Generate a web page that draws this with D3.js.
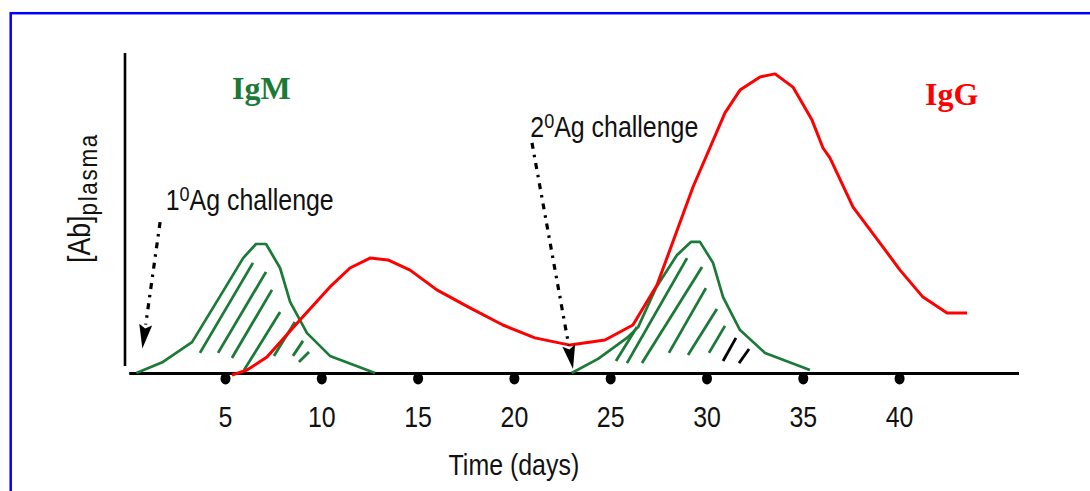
<!DOCTYPE html>
<html>
<head>
<meta charset="utf-8">
<script src="https://cdn.jsdelivr.net/npm/d3@7"></script>
<style>
  body { margin: 0; background: #fff; }
  svg { display: block; }
  .narrow { font-family: "Liberation Sans", Arial, sans-serif; }
</style>
</head>
<body>
<svg id="chart" width="1090" height="491"></svg>
<script>
// x = time in days, y = antibody level (arbitrary units, 0-100)
const tickDays = [5, 10, 15, 20, 25, 30, 35, 40];

const igmPrimary = [[0.4, 0], [1.78, 3.7], [3.29, 10.3], [5.0, 28.3], [5.94, 38.3], [6.61, 43], [7.13, 43],
    [7.86, 35], [8.38, 23.7], [9.26, 13.3], [10.45, 5.7], [12.79, 0]];

const igmSecondary = [[23.0, 0], [24.37, 4.7], [25.87, 11.7], [26.45, 15.3], [27.4, 28.7], [28.47, 39.3],
    [29.19, 43.7], [29.66, 43.7], [30.34, 36.7], [30.86, 25.3], [31.74, 14.3], [33.04, 6.7], [35.37, 1]];

const igg = [[5.36, -0.7], [6.14, 1], [7.18, 5.3], [8.89, 17.7], [10.45, 28.7], [11.49, 35], [12.53, 38.3],
    [13.46, 37.7], [14.61, 34.3], [16.0, 27.7], [17.72, 21.7], [19.43, 16], [21.09, 11.7], [22.91, 9.3],
    [24.73, 11], [26.18, 16], [27.43, 29.3], [29.3, 62], [30.96, 86.7], [31.74, 94.3], [32.78, 98.7],
    [33.56, 99.7], [34.49, 95.3], [35.48, 84.3], [36.05, 75], [36.41, 71.7], [37.61, 55.3], [39.01, 43.3],
    [40.05, 34.3], [41.24, 25.3], [42.49, 20], [43.53, 20]];

// hatch strokes under the IgM peaks: [day1, val1, day2, val2]
const hatchPrimary = [[3.70, 6.7, 6.45, 36.7], [4.64, 6.7, 7.13, 33.7], [5.36, 5, 7.44, 27.7], [5.99, 1, 7.86, 20.3],
    [7.54, 5.7, 8.63, 17], [8.53, 5.7, 9.05, 10.7], [8.84, 3.7, 9.36, 7]];
const hatchSecondary = [[25.3, 4, 26.39, 15.3], [25.87, 3.3, 28.99, 38.3], [26.65, 3.3, 29.77, 35.3],
    [28.05, 6.7, 29.97, 28.3], [29.04, 6, 30.54, 21.3], [30.13, 6.7, 30.96, 15.7]];
const hatchDark = [[30.86, 4, 31.53, 11.7], [31.69, 3.3, 32.21, 8]];

// antigen challenges: arrow from, arrow tip, label anchor
const challenges = [
    {n: "1", from: [1.63, 50.3], to: [0.71, 8.2], label: [1.92, 54.3]},
    {n: "2", from: [20.94, 76.7], to: [23.07, 1.3], label: [20.85, 78.7]}
];

const green = "#1b7a37";
const red = "#ff0000";
const squeeze = "scale(0.86,1)"; // fake a condensed face

const svg = d3.select("#chart");

let x = d3.scaleLinear().domain([0, 46.2]).range([128.7, 1018.5]);
let y = d3.scaleLinear().domain([0, 100]).range([373, 73]);

// blue frame (runs off the right and bottom edges)
svg.append("rect")
    .attr("x", 10.7).attr("y", 13.2)
    .attr("width", 1200).attr("height", 600)
    .attr("fill", "none").attr("stroke", "#0000ff").attr("stroke-width", 2.5);

// y axis line
svg.append("line")
    .attr("x1", 125).attr("x2", 125)
    .attr("y1", y(2.3)).attr("y2", y(106.7))
    .attr("stroke", "black").attr("stroke-width", 2.6);

// x axis with dot ticks
let xg = svg.append("g")
    .attr("transform", `translate(0,${y(0)})`)
    .call(d3.axisBottom(x).tickValues(tickDays).tickSize(0).tickSizeOuter(0));
xg.select(".domain").attr("stroke", "black").attr("stroke-width", 2.8);
xg.selectAll(".tick text")
    .attr("class", "narrow")
    .attr("y", 54).attr("dy", 0)
    .attr("transform", squeeze)
    .attr("font-size", 29).attr("fill", "#111");
xg.selectAll(".tick").append("ellipse")
    .attr("cy", 5.5).attr("rx", 5).attr("ry", 6).attr("fill", "black");

svg.append("text")
    .attr("class", "narrow")
    .attr("transform", `translate(${x(20)},475) ${squeeze}`)
    .attr("text-anchor", "middle")
    .attr("font-size", 29).attr("fill", "#111")
    .text("Time (days)");

// y label [Ab]plasma
let yl = svg.append("text")
    .attr("class", "narrow")
    .attr("transform", `translate(90,${y(36.7)}) rotate(-90) ${squeeze}`)
    .attr("fill", "#111");
yl.append("tspan").attr("font-size", 31).text("[Ab]");
yl.append("tspan").attr("font-size", 26).attr("dy", 7).attr("letter-spacing", 2).text("plasma");

let line = d3.line().x(d => x(d[0])).y(d => y(d[1]));

// hatching
function hatch(data, color) {
    svg.append("g").selectAll("line")
        .data(data)
        .enter().append("line")
        .attr("x1", d => x(d[0])).attr("y1", d => y(d[1]))
        .attr("x2", d => x(d[2])).attr("y2", d => y(d[3]))
        .attr("stroke", color).attr("stroke-width", 2.8);
}
hatch(hatchPrimary, green);
hatch(hatchSecondary, green);
hatch(hatchDark, "black");

[igmPrimary, igmSecondary].forEach(s => {
    svg.append("path").attr("d", line(s))
        .attr("fill", "none").attr("stroke", green).attr("stroke-width", 2.7)
        .attr("stroke-linejoin", "round");
});

svg.append("path").attr("d", line(igg))
    .attr("fill", "none").attr("stroke", red).attr("stroke-width", 3)
    .attr("stroke-linejoin", "round");

// challenge arrows
challenges.forEach(c => {
    let x1 = x(c.from[0]), y1 = y(c.from[1]);
    let x2 = x(c.to[0]), y2 = y(c.to[1]);
    let a = Math.atan2(y2 - y1, x2 - x1);
    let len = 24, half = 6.5, notch = 4;
    let bx = x2 - len * Math.cos(a), by = y2 - len * Math.sin(a);
    let nx = -Math.sin(a), ny = Math.cos(a);

    svg.append("line")
        .attr("x1", x1).attr("y1", y1).attr("x2", bx).attr("y2", by)
        .attr("stroke", "black").attr("stroke-width", 3.2)
        .attr("stroke-dasharray", "6,6,2.5,6");

    let head = [[x2, y2], [bx + nx * half, by + ny * half],
        [x2 - (len - notch) * Math.cos(a), y2 - (len - notch) * Math.sin(a)],
        [bx - nx * half, by - ny * half]];
    svg.append("path").attr("d", "M" + head.join("L") + "Z").attr("fill", "black");

    let t = svg.append("text")
        .attr("class", "narrow")
        .attr("transform", `translate(${x(c.label[0])},${y(c.label[1])}) ${squeeze}`)
        .attr("fill", "#111");
    t.append("tspan").attr("font-size", 29).text(c.n);
    t.append("tspan").attr("font-size", 21).attr("dy", -9).text("0");
    t.append("tspan").attr("font-size", 29).attr("dy", 9).text("Ag challenge");
});

// series labels
svg.append("text")
    .attr("x", x(5.37)).attr("y", y(91.3))
    .attr("font-family", "Liberation Serif, Times New Roman, serif")
    .attr("font-weight", "bold").attr("font-size", 32)
    .attr("fill", green).text("IgM");
svg.append("text")
    .attr("x", x(41.35)).attr("y", y(89.3))
    .attr("font-family", "Liberation Serif, Times New Roman, serif")
    .attr("font-weight", "bold").attr("font-size", 32)
    .attr("fill", red).text("IgG");
</script>
</body>
</html>
